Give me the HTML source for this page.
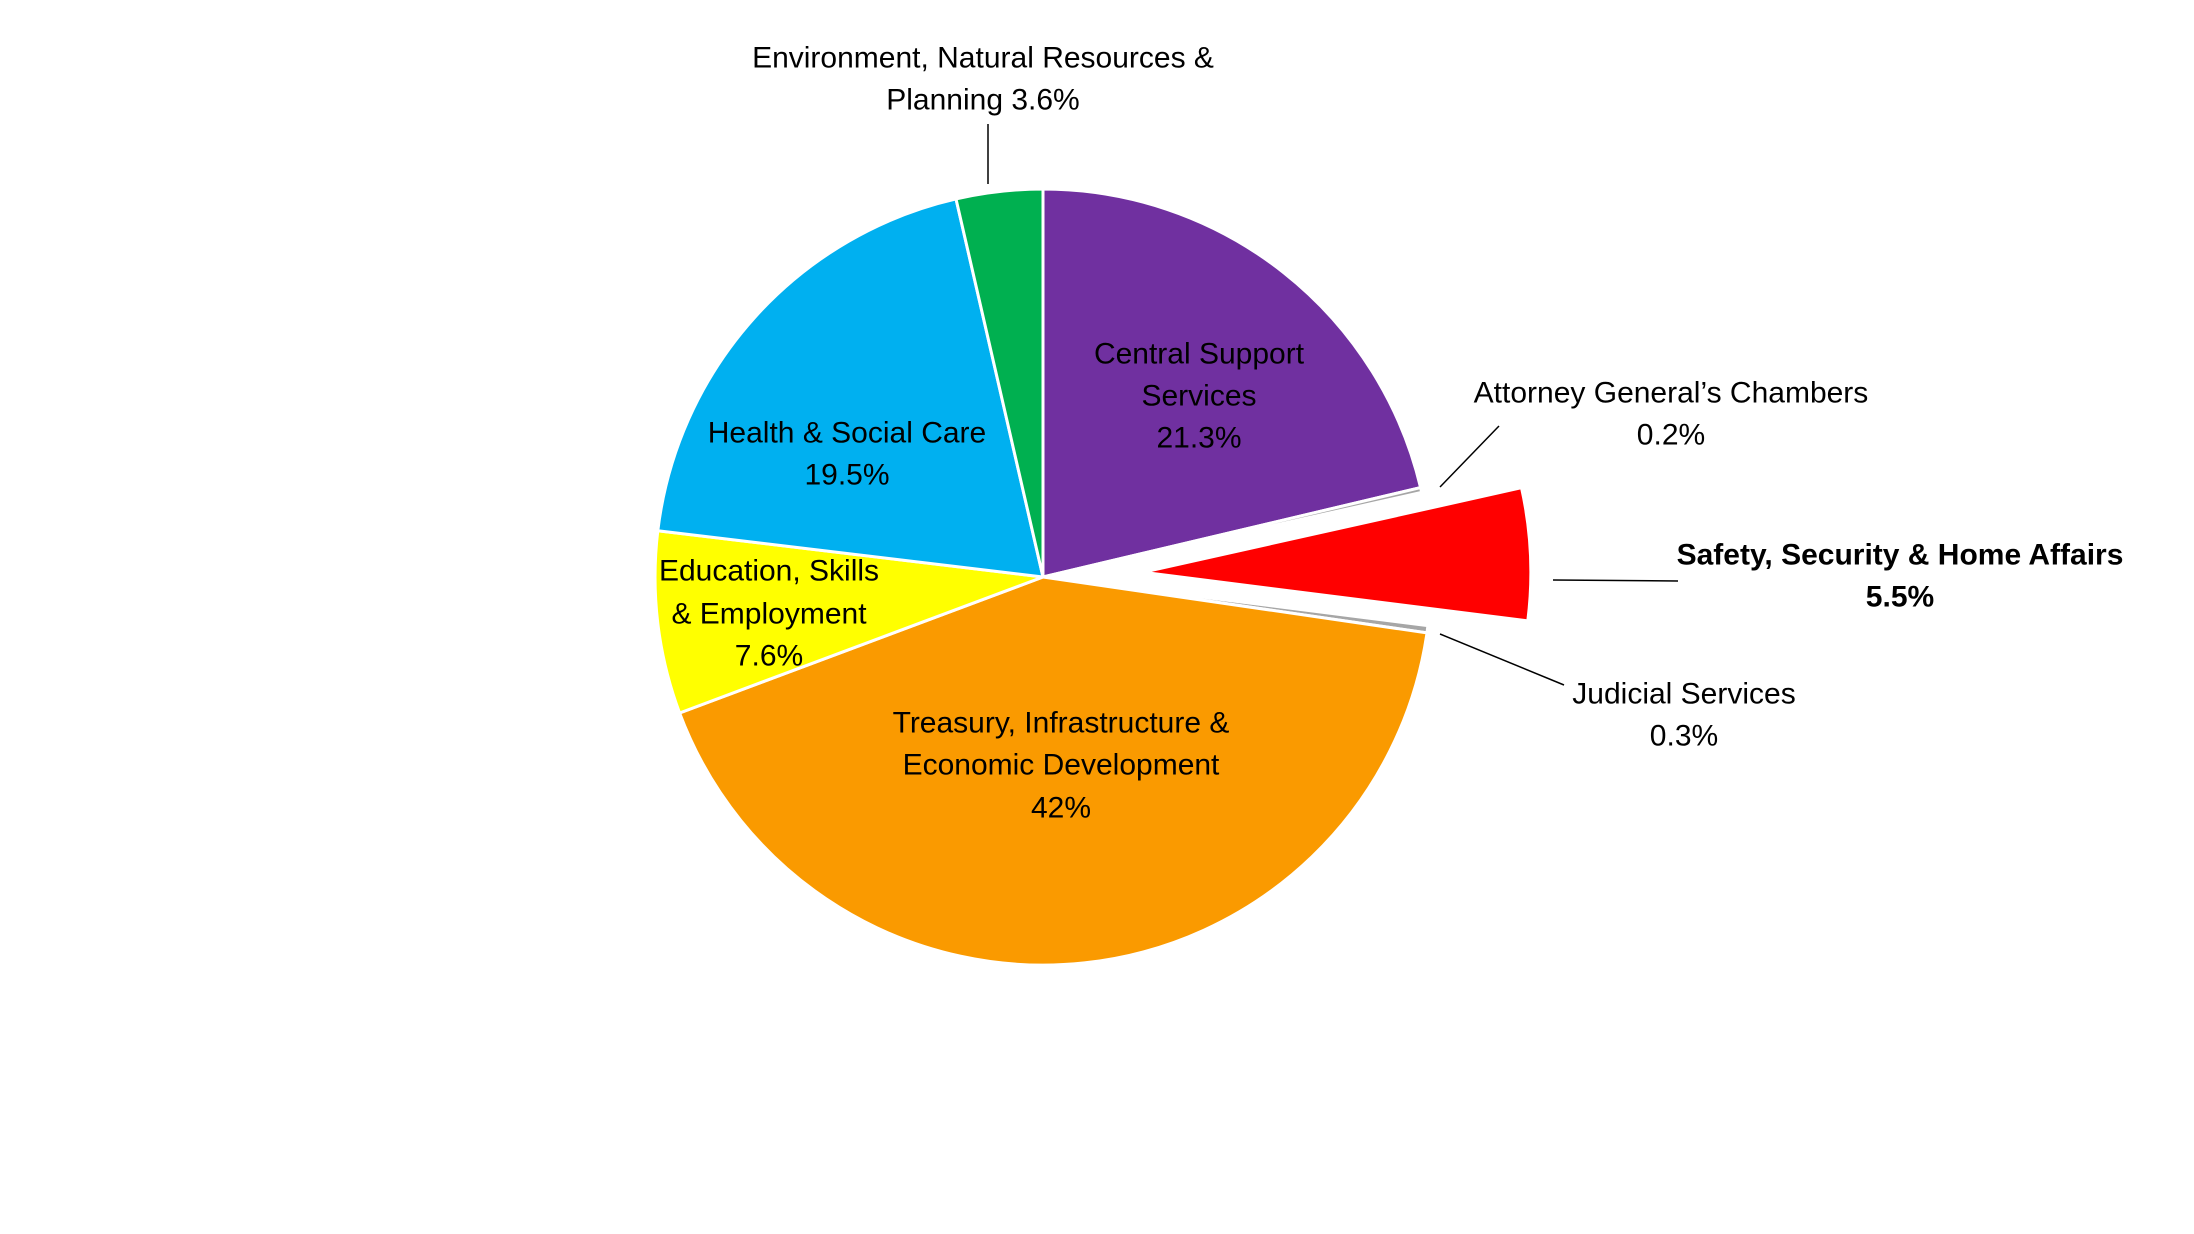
<!DOCTYPE html>
<html><head><meta charset="utf-8"><style>
html,body{margin:0;padding:0;background:#fff;}
svg{display:block;}
text{font-family:"Liberation Sans",Arial,sans-serif;font-size:30px;fill:#000;}
</style></head><body>
<svg width="2194" height="1234" viewBox="0 0 2194 1234" xmlns="http://www.w3.org/2000/svg">
<g stroke="#fff" stroke-width="3" stroke-linejoin="round">
<path fill="#7030A0" d="M1043 577 L1043 189 A388 388 0 0 1 1420.6 487.6 Z"/>
<path fill="#A6A6A6" d="M1043 577 L1420.6 487.6 A388 388 0 0 1 1421.7 492.4 Z"/>
<path fill="#FF0000" d="M1142.9 572.3 L1521.5 487.7 A388 388 0 0 1 1527.8 620.9 Z"/>
<path fill="#A6A6A6" d="M1043 577 L1427.9 625.6 A388 388 0 0 1 1427.0 632.9 Z"/>
<path fill="#FA9A00" d="M1043 577 L1427.0 632.9 A388 388 0 0 1 679.6 713.0 Z"/>
<path fill="#FFFF00" d="M1043 577 L679.6 713.0 A388 388 0 0 1 657.8 530.8 Z"/>
<path fill="#00B0F0" d="M1043 577 L657.8 530.8 A388 388 0 0 1 956.0 198.9 Z"/>
<path fill="#00B050" d="M1043 577 L956.0 198.9 A388 388 0 0 1 1043 189 Z"/>
</g>
<g stroke="#000" stroke-width="1.5" fill="none">
<line x1="988" y1="124" x2="988" y2="184"/>
<line x1="1499" y1="426" x2="1440" y2="487"/>
<line x1="1553" y1="580" x2="1678" y2="581"/>
<line x1="1440" y1="634" x2="1564" y2="685"/>
</g>
<g text-anchor="middle" dominant-baseline="central">
<text x="983" y="58">Environment, Natural Resources &amp;</text>
<text x="983" y="100">Planning 3.6%</text>
<text x="1199" y="354">Central Support</text>
<text x="1199" y="396">Services</text>
<text x="1199" y="438">21.3%</text>
<text x="847" y="433">Health &amp; Social Care</text>
<text x="847" y="475">19.5%</text>
<text x="769" y="571">Education, Skills</text>
<text x="769" y="614">&amp; Employment</text>
<text x="769" y="656">7.6%</text>
<text x="1061" y="723">Treasury, Infrastructure &amp;</text>
<text x="1061" y="765">Economic Development</text>
<text x="1061" y="808">42%</text>
<text x="1671" y="393">Attorney General’s Chambers</text>
<text x="1671" y="435">0.2%</text>
<text x="1900" y="555" font-weight="bold">Safety, Security &amp; Home Affairs</text>
<text x="1900" y="597" font-weight="bold">5.5%</text>
<text x="1684" y="694">Judicial Services</text>
<text x="1684" y="736">0.3%</text>
</g>
</svg>
</body></html>
